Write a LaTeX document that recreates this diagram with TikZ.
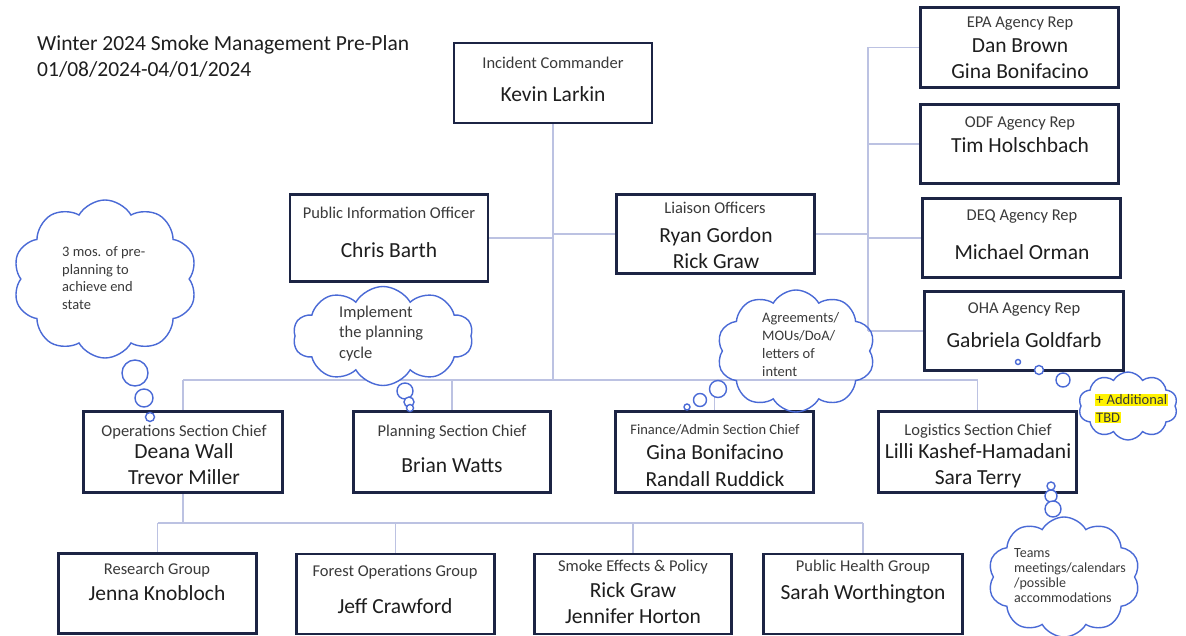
\documentclass[tikz,border=0pt]{standalone}
\usepackage{fontspec}
\setmainfont{Carlito}
\usetikzlibrary{shapes.symbols,backgrounds}

\definecolor{boxline}{HTML}{1C2444}
\definecolor{wireclr}{HTML}{BCC2E2}
\definecolor{puffline}{HTML}{4A6AD6}
\definecolor{labeltext}{HTML}{3A3A3A}
\definecolor{nametext}{HTML}{1E1E1E}
\definecolor{marker}{HTML}{FFF200}
\setlength{\fboxsep}{1pt}

\tikzset{
	orgbox/.style={draw=boxline, line width=2.6pt, fill=white, inner sep=0pt},
	role/.style={font=\fontsize{16.5}{20}\selectfont, text=labeltext, inner sep=0pt},
	who/.style={font=\fontsize{21.5}{26.5}\selectfont, text=nametext, align=center, inner sep=0pt},
	wire/.style={draw=wireclr, line width=1.1pt},
	thought/.style={cloud, cloud puffs=10, cloud puff arc=120, cloud ignores aspect, draw=puffline, line width=1.4pt, fill=white, inner sep=0pt},
	bubble/.style={circle, draw=puffline, line width=1.4pt, fill=white, inner sep=0pt},
	note/.style={align=left, text=labeltext, anchor=west, inner sep=0pt}
}

\begin{document}
\begin{tikzpicture}[x=1pt, y=-1pt]
		\useasboundingbox (0,0) rectangle (1186,636);
		\node[note, font=\fontsize{21.5}{26}\selectfont, text=nametext] (title) at (37,56) {Winter 2024 Smoke Management Pre-Plan\\01/08/2024-04/01/2024};

		% command and staff
		\node[orgbox, minimum width=198, minimum height=80] (ic) at (553,83) {};
		\node[orgbox, minimum width=198, minimum height=87] (pio) at (389,238) {};
		\node[orgbox, minimum width=198, minimum height=79] (lo) at (715.5,234) {};
		\node[orgbox, minimum width=198, minimum height=80] (epa) at (1019.5,47.5) {};
		\node[orgbox, minimum width=198, minimum height=79] (odf) at (1019.5,144) {};
		\node[orgbox, minimum width=198, minimum height=79] (deq) at (1021.5,238) {};
		\node[orgbox, minimum width=199, minimum height=79] (oha) at (1024,331) {};
		% sections
		\node[orgbox, minimum width=199, minimum height=81] (ops) at (183,452) {};
		\node[orgbox, minimum width=197, minimum height=81] (plan) at (452,452) {};
		\node[orgbox, minimum width=198, minimum height=81] (fin) at (714.5,452) {};
		\node[orgbox, minimum width=198, minimum height=81] (logi) at (977.5,452) {};
		% groups
		\node[orgbox, minimum width=198, minimum height=80] (res) at (157.5,593.5) {};
		\node[orgbox, minimum width=198, minimum height=80] (fog) at (395.5,594) {};
		\node[orgbox, minimum width=197, minimum height=80] (sep) at (633,594) {};
		\node[orgbox, minimum width=199, minimum height=80] (ph) at (863,594) {};

		\coordinate (hub) at (553,380);
		\coordinate (repbus) at (868,47.5);
		\coordinate (grpbus) at (183,523);

		% connectors, behind the boxes
		\begin{scope}[on background layer]
			\fill[white] (0,0) rectangle (1186,636);
			\draw[wire] (ic.south) -- (hub);
			\draw[wire] (pio.east) -- (pio.east -| hub);
			\draw[wire] (lo.west) -- (lo.west -| hub);
			\draw[wire] (lo.east) -- (lo.east -| repbus);
			\draw[wire] (repbus) -- (oha.west -| repbus);
			\foreach \r in {epa,odf,deq,oha}
				\draw[wire] (\r.west) -- (\r.west -| repbus);
			\draw[wire] (ops.north |- hub) -- (logi.north |- hub);
			\foreach \s in {ops,plan,fin,logi}
				\draw[wire] (\s.north) -- (\s.north |- hub);
			\draw[wire] (ops.south) -- (grpbus);
			\draw[wire] (res.north |- grpbus) -- (ph.north |- grpbus);
			\foreach \g in {res,fog,sep,ph}
				\draw[wire] (\g.north) -- (\g.north |- grpbus);
		\end{scope}

		% thought clouds
		\node[thought, minimum width=184, minimum height=158] (c-pre) at (105,279) {};
		\node[thought, minimum width=180, minimum height=99] (c-cycle) at (383,336) {};
		\node[thought, fill=none, minimum width=158, minimum height=122] (c-agree) at (796,351) {};
		\node[thought, minimum width=99, minimum height=68] (c-tbd) at (1128,406) {};
		\node[thought, minimum width=152, minimum height=120] (c-teams) at (1064,577) {};
		\node[bubble, minimum size=26] (b-pre1) at (135,373) {};
		\node[bubble, minimum size=18] (b-pre2) at (144,398) {};
		\node[bubble, minimum size=9] (b-pre3) at (150,417) {};
		\node[bubble, minimum size=16] (b-cyc1) at (405,391) {};
		\node[bubble, minimum size=10] (b-cyc2) at (409,402) {};
		\node[bubble, minimum size=7] (b-cyc3) at (410,408) {};
		\node[bubble, minimum size=17] (b-agr1) at (718,389) {};
		\node[bubble, minimum size=13] (b-agr2) at (700,400) {};
		\node[bubble, minimum size=6] (b-agr3) at (687,407) {};
		\node[bubble, minimum size=14] (b-tbd1) at (1063,380) {};
		\node[bubble, minimum size=9] (b-tbd2) at (1039,370) {};
		\node[bubble, minimum size=5] (b-tbd3) at (1018,362) {};
		\node[bubble, minimum size=8] (b-tm1) at (1051,486) {};
		\node[bubble, minimum size=12] (b-tm2) at (1051,496) {};
		\node[bubble, minimum size=16] (b-tm3) at (1053,509) {};

		% texts
		\node[role] (ic-r) at (553,63) {Incident Commander};
		\node[who] (ic-w) at (553,94) {Kevin Larkin};
		\node[role] (pio-r) at (389,213) {Public Information Officer};
		\node[who] (pio-w) at (389,250) {Chris Barth};
		\node[role] (lo-r) at (715,208) {Liaison Officers};
		\node[who] (lo-w) at (716,248) {Ryan Gordon\\Rick Graw};
		\node[role] (epa-r) at (1020,24) {EPA Agency Rep};
		\node[who] (epa-w) at (1020,58.5) {Dan Brown\\Gina Bonifacino};
		\node[role] (odf-r) at (1020,124) {ODF Agency Rep};
		\node[who] (odf-w) at (1020,145) {Tim Holschbach};
		\node[role] (deq-r) at (1022,217) {DEQ Agency Rep};
		\node[who] (deq-w) at (1022,252) {Michael Orman};
		\node[role] (oha-r) at (1024,310) {OHA Agency Rep};
		\node[who] (oha-w) at (1024,340) {Gabriela Goldfarb};
		\node[role] (ops-r) at (184,432) {Operations Section Chief};
		\node[who] (ops-w) at (184,464) {Deana Wall\\Trevor Miller};
		\node[role] (plan-r) at (452,432) {Planning Section Chief};
		\node[who] (plan-w) at (452,465) {Brian Watts};
		\node[role, font=\fontsize{14.5}{18}\selectfont] (fin-r) at (715,430) {Finance/Admin Section Chief};
		\node[who] (fin-w) at (715,465.5) {Gina Bonifacino\\Randall Ruddick};
		\node[role] (logi-r) at (978,431) {Logistics Section Chief};
		\node[who] (logi-w) at (978,466) {Lilli Kashef-Hamadani\\Sara Terry};
		\node[role] (res-r) at (157,570) {Research Group};
		\node[who] (res-w) at (157,593) {Jenna Knobloch};
		\node[role] (fog-r) at (395,572) {Forest Operations Group};
		\node[who] (fog-w) at (395,606) {Jeff Crawford};
		\node[role] (sep-r) at (633,567) {Smoke Effects \& Policy};
		\node[who] (sep-w) at (633,603) {Rick Graw\\Jennifer Horton};
		\node[role] (ph-r) at (863,567) {Public Health Group};
		\node[who] (ph-w) at (863,594) {Sarah Worthington};

		\node[note, font=\fontsize{14.5}{17.5}\selectfont] (n-pre) at (62,278) {3 mos. of pre-\\planning to\\achieve end\\state};
		\node[note, font=\fontsize{16.5}{20.5}\selectfont] (n-cycle) at (339,333.5) {Implement\\the planning\\cycle};
		\node[note, font=\fontsize{14.5}{17.7}\selectfont] (n-agree) at (762,344.5) {Agreements/\\MOUs/DoA/\\letters of\\intent};
		\node[note, font=\fontsize{14.5}{17.5}\selectfont] (n-tbd) at (1095,408.5) {\colorbox{marker}{+ Additional}\\\colorbox{marker}{TBD}};
		\node[note, font=\fontsize{14}{15}\selectfont] (n-teams) at (1014,575.5) {Teams\\meetings/calendars\\/possible\\accommodations};
	\end{tikzpicture}
\end{document}
